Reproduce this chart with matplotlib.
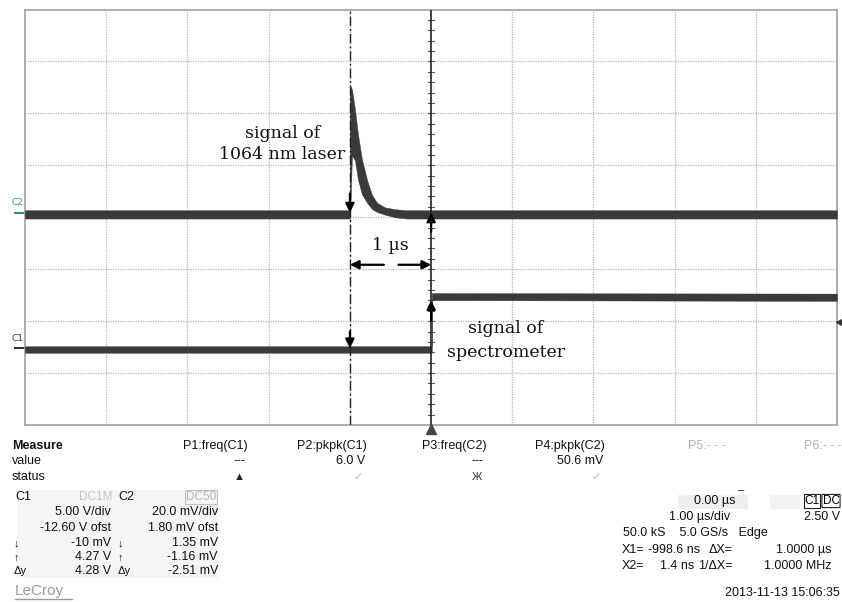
import matplotlib
matplotlib.use('Agg')
import matplotlib.pyplot as plt
from matplotlib.patches import Rectangle
from matplotlib.lines import Line2D
import numpy as np

W, H = 842, 602

# ---------------- data (physical units) ----------------
c1_volts_per_div = 5.00
c1_offset_v = -12.60
c2_mv_per_div = 20.0
c2_offset_mv = 1.80
trig_level_v = 2.50
cursor_x1_us = -0.9986
cursor_x2_us = 0.0014

# C2 (1064 nm laser detector) envelope, mV
c2_t = [-5.0, -0.999, -0.998, -0.973, -0.936, -0.899, -0.850, -0.788, -0.727, -0.665, -0.567, -0.443, -0.30, 5.0]
c2_hi = [0.9, 0.9, 49.2, 47.4, 39.6, 30.0, 20.4, 12.6, 6.8, 3.8, 2.0, 1.3, 0.9, 0.9]
c2_lo = [-2.3, -2.3, -2.3, 22.0, 20.0, 12.6, 7.0, 3.8, 1.4, 0.2, -0.8, -1.8, -2.3, -2.3]

# C1 (spectrometer trigger) envelope, V
c1_t = [-5.0, 0.01, 0.01, 5.0]
c1_hi = [0.18, 0.18, 5.30, 5.25]
c1_lo = [-0.45, -0.45, 4.62, 4.55]


def c2_div(v):
    return (np.asarray(v) + c2_offset_mv) / c2_mv_per_div


def c1_div(v):
    return (np.asarray(v) + c1_offset_v) / c1_volts_per_div


fig = plt.figure(figsize=(W / 100, H / 100), dpi=100)
fig.patch.set_facecolor('white')

L, R, T, B = 25, 837, 9.5, 425
ax = fig.add_axes([L / W, 1 - B / H, (R - L) / W, (B - T) / H])
ax.set_xlim(-5, 5)
ax.set_ylim(-4, 4)
ax.set_xticks([])
ax.set_yticks([])
for s in ax.spines.values():
    s.set_color('#a0a0a0')
    s.set_linewidth(1.2)

grid_kw = dict(color='#b4b4b4', lw=0.9, ls=(0, (1, 1)), zorder=1)
for gx in range(-4, 5):
    if gx != 0:
        ax.axvline(gx, **grid_kw)
for gy in range(-3, 4):
    ax.axhline(gy, **grid_kw)

# center axis ticks
for yy in np.arange(-4, 4.01, 0.2):
    ax.plot([-0.04, 0.04], [yy, yy], color='#555555', lw=0.8, zorder=2)

# traces
trace_col = '#3a3a3a'
ax.fill_between(c2_t, c2_div(c2_lo), c2_div(c2_hi), color=trace_col, lw=0.3, edgecolor=trace_col, zorder=3)
ax.fill_between(c1_t, c1_div(c1_lo), c1_div(c1_hi), color=trace_col, lw=0.3, edgecolor=trace_col, zorder=3)

# cursors
ax.axvline(cursor_x1_us, color='#222222', lw=1.0, ls=(0, (7, 2, 1.5, 2)), zorder=4)
ax.axvline(cursor_x2_us, color='#222222', lw=1.2, zorder=4)

# trigger markers
ax.plot([cursor_x2_us], [-4.07], marker='^', ms=7, color='#444444', clip_on=False, zorder=5)
ax.plot([5.03], [c1_div(trig_level_v)], marker='<', ms=5, color='#333333', clip_on=False, zorder=5)

# ground markers
ax.plot([-5.12, -5.0], [c2_div(0), c2_div(0)], color='#2a8f8f', lw=1.5, clip_on=False)
ax.plot([-5.12, -5.0], [c1_div(0), c1_div(0)], color='#333333', lw=1.5, clip_on=False)
ax.text(-5.02, c2_div(0) + 0.10, 'C2', color='#2a9d8f', fontsize=6.5, ha='right', va='bottom', family='DejaVu Sans')
ax.text(-5.02, c1_div(0) + 0.10, 'C1', color='#333333', fontsize=6.5, ha='right', va='bottom', family='DejaVu Sans')

# annotation arrows
ap = dict(arrowstyle='-|>', color='black', lw=1.6, mutation_scale=13, shrinkA=0, shrinkB=0)
ax.annotate('', xy=(cursor_x1_us, c2_div(0)), xytext=(cursor_x1_us, 0.45), arrowprops=ap, zorder=6)
ax.annotate('', xy=(cursor_x1_us, c1_div(0)), xytext=(cursor_x1_us, -2.2), arrowprops=ap, zorder=6)
ax.annotate('', xy=(cursor_x2_us, 0.09), xytext=(cursor_x2_us, -0.28), arrowprops=ap, zorder=6)
ax.annotate('', xy=(cursor_x2_us, -1.60), xytext=(cursor_x2_us, -2.0), arrowprops=ap, zorder=6)
ax.annotate('', xy=(cursor_x1_us, -0.915), xytext=(-0.58, -0.915), arrowprops=ap, zorder=6)
ax.annotate('', xy=(cursor_x2_us, -0.915), xytext=(-0.40, -0.915), arrowprops=ap, zorder=6)

serif = dict(family='DejaVu Serif', fontsize=12.5, color='#111111', ha='center', va='center')
ax.text(-1.83, 1.62, 'signal of', **serif)
ax.text(-1.83, 1.20, '1064 nm laser', **serif)
ax.text(-0.50, -0.55, '1 µs', **serif)
ax.text(0.92, -2.15, 'signal of', **serif)
ax.text(0.92, -2.60, 'spectrometer', **serif)


# ---------------- info panel ----------------
def txt(x, y, s, ha='left', color='#111111', size=9, weight='normal', **kw):
    fig.text(x / W, 1 - y / H, s, ha=ha, va='center', color=color, fontsize=size,
             fontweight=weight, family=['Liberation Sans', 'DejaVu Sans'], **kw)


txt(12, 446, 'Measure', weight='bold')
txt(12, 461, 'value')
txt(12, 477, 'status')

ptitles = ['P1:freq(C1)', 'P2:pkpk(C1)', 'P3:freq(C2)', 'P4:pkpk(C2)', 'P5:- - -', 'P6:- - -']
pvalues = ['---', '6.0 V', '---', '50.6 mV', '', '']
pstatus = ['\u25B2', '\u2713', '\u0416', '\u2713', '', '']
status_col = ['#222222', '#bbbbbb', '#333333', '#bbbbbb', '', '']
p_right = [248, 367, 486, 605, 726, 842]
for i in range(6):
    col = '#111111' if i < 4 else '#b0b0b0'
    txt(p_right[i], 446, ptitles[i], ha='right', color=col)
    if pvalues[i]:
        txt(p_right[i] - 2, 461, pvalues[i], ha='right')
    if pstatus[i]:
        txt(p_right[i] - 9, 477, pstatus[i], ha='center', color=status_col[i], size=8)

# channel box
fig.patches.append(Rectangle((17 / W, 1 - 578 / H), 201 / W, 88 / H, transform=fig.transFigure,
                             facecolor='#f5f5f5', edgecolor='none', zorder=0))
txt(15, 497, 'C1')
txt(112, 497, 'DC1M', ha='right', color='#c4c4c4', size=8.5)
txt(118, 497, 'C2')
fig.text(216 / W, 1 - 497 / H, 'DC50', ha='right', va='center', color='#b8b8b8', fontsize=8.5,
         family='Liberation Sans', bbox=dict(boxstyle='square,pad=0.1', fc='none', ec='#c0c0c0', lw=0.8))

c1_rows = ['5.00 V/div', '-12.60 V ofst', '-10 mV', '4.27 V', '4.28 V']
c2_rows = ['20.0 mV/div', '1.80 mV ofst', '1.35 mV', '-1.16 mV', '-2.51 mV']
row_sym = ['', '', '\u2193', '\u2191', '\u0394y']
row_y = [512, 528, 543, 557, 571]
for i in range(5):
    txt(111, row_y[i], c1_rows[i], ha='right')
    txt(218, row_y[i], c2_rows[i], ha='right')
    if row_sym[i]:
        txt(14, row_y[i], row_sym[i], size=8)
        txt(118, row_y[i], row_sym[i], size=8)

txt(15, 591, 'LeCroy', color='#9a9a9a', size=11)
fig.add_artist(Line2D([15 / W, 72 / W], [1 - 599 / H, 1 - 599 / H], color='#9a9a9a', lw=1))

# timebase block
fig.patches.append(Rectangle((678 / W, 1 - 509 / H), 70 / W, 14 / H, transform=fig.transFigure,
                             facecolor='#eeeeee', edgecolor='none', zorder=0))
fig.patches.append(Rectangle((770 / W, 1 - 509 / H), 30 / W, 14 / H, transform=fig.transFigure,
                             facecolor='#f3f3f3', edgecolor='none', zorder=0))
txt(735, 501, '0.00 µs', ha='right')
txt(737, 496, '\u00AF', size=8)
fig.text(812 / W, 1 - 501 / H, 'C1', ha='center', va='center', fontsize=8.5, family='Liberation Sans',
         bbox=dict(boxstyle='square,pad=0.05', fc='none', ec='#222222', lw=0.8))
fig.text(831 / W, 1 - 501 / H, 'DC', ha='center', va='center', fontsize=8.5, family='Liberation Sans',
         bbox=dict(boxstyle='round,pad=0.05', fc='none', ec='#222222', lw=0.8))
txt(730, 517, '1.00 µs/div', ha='right')
txt(840, 517, '2.50 V', ha='right')
txt(623, 533, '50.0 kS    5.0 GS/s   Edge')
txt(622, 550, 'X1=')
txt(700, 550, '-998.6 ns', ha='right')
txt(709, 550, '\u0394X=')
txt(831, 550, '1.0000 µs', ha='right')
txt(622, 566, 'X2=')
txt(694, 566, '1.4 ns', ha='right')
txt(698, 566, '1/\u0394X=')
txt(831, 566, '1.0000 MHz', ha='right')
txt(840, 593, '2013-11-13 15:06:35', ha='right')

fig.savefig('out.png', dpi=100, facecolor='white')
